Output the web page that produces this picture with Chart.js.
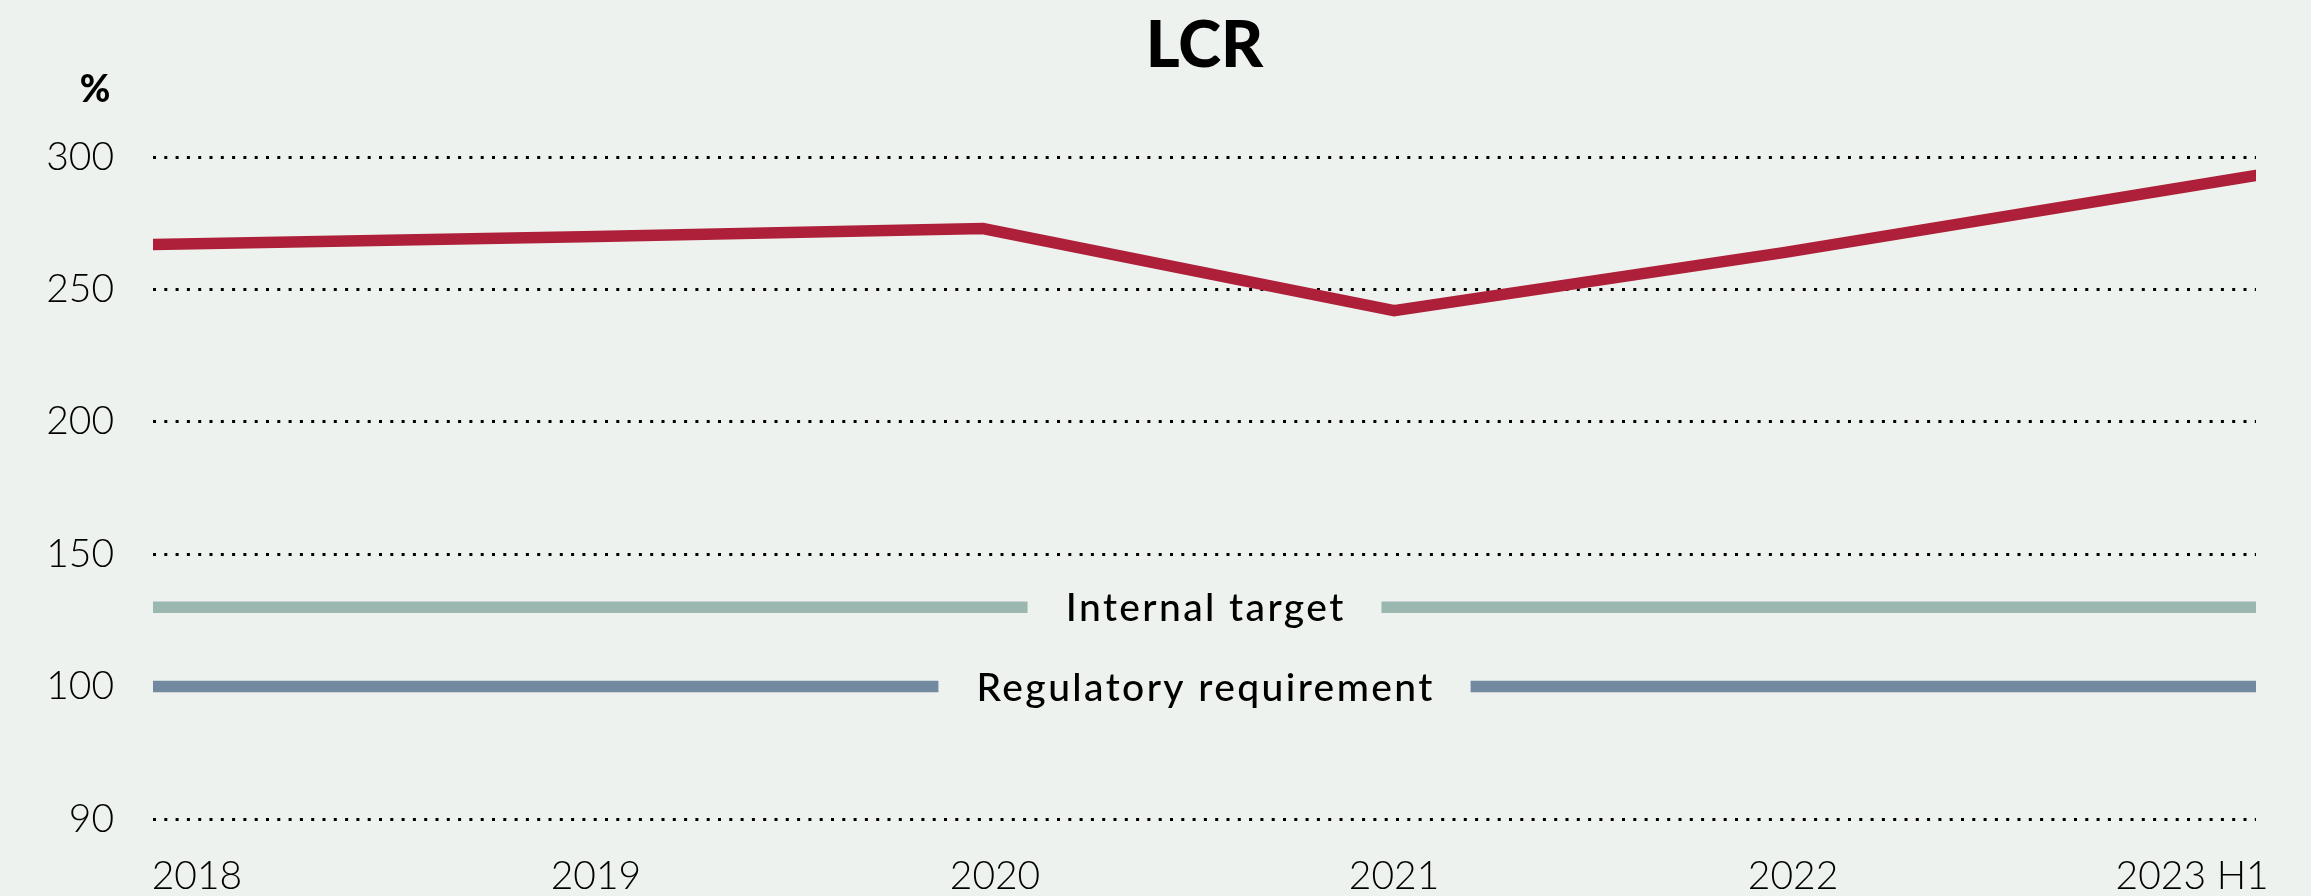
<!DOCTYPE html>
<html>
<head>
<meta charset="utf-8">
<script src="https://cdn.jsdelivr.net/npm/chart.js@4/dist/chart.umd.min.js"></script>
<style>
  html, body { margin: 0; padding: 0; background: #EEF2EE; }
  #wrap { width: 2311px; height: 896px; position: relative; }
</style>
</head>
<body>
<div id="wrap"><canvas id="c" width="2311" height="896"></canvas></div>
<script>
// ---- data ----
const categories = ['2018', '2019', '2020', '2021', '2022', '2023 H1'];
const lcrX = [-0.11, 1, 1.97, 3, 3.98, 5.16];          // position of each observation on the period axis
const lcrValues = [267, 270, 273, 242, 264, 293];
const internalTarget = 130;
const regulatoryRequirement = 100;
const yTickValues = [50, 100, 150, 200, 250, 300];
const yTickLabels = ['90', '100', '150', '200', '250', '300'];
const titleText = 'LCR';
const unitText = '%';
const internalLabel = 'Internal target';
const regulatoryLabel = 'Regulatory requirement';

const BG = '#EEF2EE';
const xMin = lcrX[0], xMax = lcrX[lcrX.length - 1];

const refLabels = {
  id: 'refLabels',
  afterDatasetsDraw(chart) {
    const ctx = chart.ctx;
    const ca = chart.chartArea;
    const ys = chart.scales.y;
    const cx = (ca.left + ca.right) / 2;
    ctx.save();
    ctx.font = '500 39px Lato';
    ctx.letterSpacing = '2.4px';
    ctx.textAlign = 'center';
    ctx.textBaseline = 'alphabetic';
    [[internalLabel, internalTarget], [regulatoryLabel, regulatoryRequirement]].forEach(([t, v]) => {
      const y = ys.getPixelForValue(v);
      const w = ctx.measureText(t).width;
      ctx.fillStyle = BG;
      ctx.fillRect(cx - w / 2 - 37, y - 10, w + 74, 20);
      ctx.fillStyle = '#000';
      ctx.fillText(t, cx + 1.2, y + 14);
    });
    ctx.restore();
  },
  afterDraw(chart) {
    const ctx = chart.ctx;
    const ca = chart.chartArea;
    ctx.save();
    ctx.fillStyle = '#000';
    ctx.textAlign = 'center';
    ctx.textBaseline = 'alphabetic';
    ctx.font = '900 65px Lato';
    ctx.fillText(titleText, (ca.left + ca.right) / 2, 67);
    ctx.font = '900 37px Lato';
    ctx.fillText(unitText, 95, 102);
    ctx.restore();
  }
};

const bgPlugin = {
  id: 'bg',
  beforeDraw(chart) {
    const ctx = chart.ctx;
    ctx.save();
    ctx.fillStyle = BG;
    ctx.fillRect(0, 0, chart.width, chart.height);
    ctx.restore();
  }
};

new Chart(document.getElementById('c'), {
  type: 'line',
  data: {
    datasets: [
      {
        label: internalLabel,
        data: [{x: xMin, y: internalTarget}, {x: xMax, y: internalTarget}],
        borderColor: '#9AB8B0',
        borderWidth: 11.5,
        borderCapStyle: 'round',
        pointRadius: 0
      },
      {
        label: regulatoryLabel,
        data: [{x: xMin, y: regulatoryRequirement}, {x: xMax, y: regulatoryRequirement}],
        borderColor: '#728AA0',
        borderWidth: 11.5,
        borderCapStyle: 'round',
        pointRadius: 0
      },
      {
        label: 'LCR',
        data: lcrX.map((x, i) => ({x: x, y: lcrValues[i]})),
        borderColor: '#AE2039',
        borderWidth: 11.5,
        borderCapStyle: 'round',
        borderJoinStyle: 'miter',
        pointRadius: 0,
        tension: 0
      }
    ]
  },
  options: {
    responsive: false,
    animation: false,
    devicePixelRatio: 1,
    layout: { padding: { top: 157, right: 55, left: 0, bottom: 0 } },
    plugins: {
      legend: { display: false },
      title: { display: false },
      tooltip: { enabled: false }
    },
    scales: {
      x: {
        type: 'linear',
        min: xMin,
        max: xMax,
        afterBuildTicks(scale) {
          scale.ticks = categories.map((c, i) => ({ value: i }));
        },
        afterFit(scale) { scale.height = 77; },
        grid: { display: false, drawTicks: false },
        border: { display: false },
        ticks: {
          autoSkip: false,
          maxRotation: 0,
          padding: 34,
          color: '#000',
          font: { family: 'Lato', size: 39, weight: 300 },
          callback: (v) => categories[v]
        }
      },
      y: {
        type: 'linear',
        min: 50,
        max: 300,
        afterBuildTicks(scale) {
          scale.ticks = yTickValues.map(v => ({ value: v }));
        },
        afterFit(scale) { scale.width = 153; },
        grid: { color: '#000', lineWidth: 3, drawTicks: false },
        border: { display: false, dash: [3, 8.3] },
        ticks: {
          padding: 39,
          color: '#000',
          font: { family: 'Lato', size: 39, weight: 300 },
          callback: (v) => yTickLabels[yTickValues.indexOf(v)]
        }
      }
    }
  },
  plugins: [bgPlugin, refLabels]
});
</script>
</body>
</html>
